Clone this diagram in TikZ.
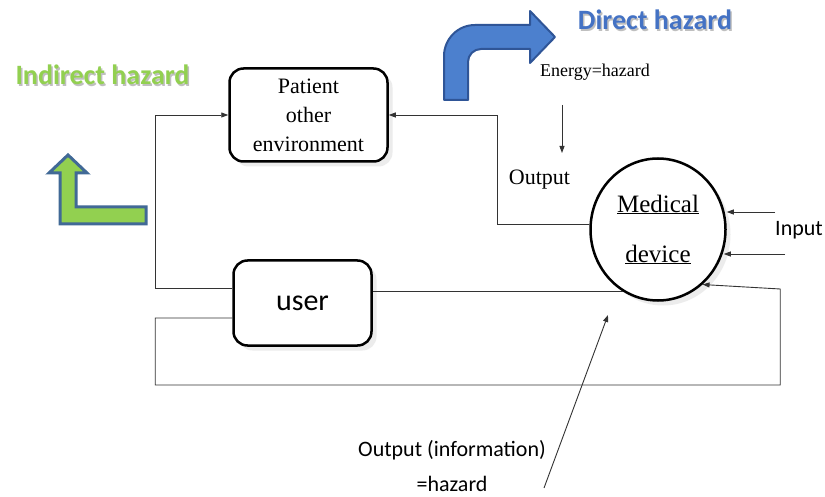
\documentclass[tikz,border=0pt]{standalone}
\usepackage{fontspec}
\setmainfont{Liberation Serif}
\newfontfamily\calfont{Carlito}
\usetikzlibrary{arrows.meta,shapes.geometric,shadows,calc}
\definecolor{hzgreen}{RGB}{146,208,80}
\definecolor{hzblue}{RGB}{68,114,196}
\definecolor{arrblue}{RGB}{76,128,206}
\definecolor{arredge}{RGB}{47,85,151}
\definecolor{gredge}{RGB}{65,105,150}
\begin{document}
\begin{tikzpicture}[x=1pt,y=-1pt,
  conn/.style={draw=black!80, line width=0.9pt},
  arr/.style={conn, -{Triangle[length=7pt,width=5pt]}},
  shad/.style={drop shadow={shadow xshift=5pt, shadow yshift=-5pt, opacity=0.15}},
  rbox/.style={draw, line width=2.5pt, rounded corners=14pt, fill=white, inner sep=0pt, shad},
  serif/.style={font=\fontsize{#1}{#1}\selectfont},
  title/.style={font=\calfont\bfseries\fontsize{28}{32}\selectfont}
]
\useasboundingbox[fill=white] (0,0) rectangle (825,497);

% hazard arrows
\filldraw[fill=arrblue, draw=arredge, line width=2pt, line join=round]
  (444,100) -- (444,56) .. controls (444,39.4) and (457.4,25) .. (475,25)
  -- (530,25) -- (530,11) -- (555,37) -- (530,63) -- (530,49) -- (481,49)
  .. controls (473.8,49) and (468,54.8) .. (468,62) -- (468,100) -- cycle;
\filldraw[fill=hzgreen, draw=gredge, line width=3pt, line join=miter]
  (60,224) -- (60,173) -- (49,173) -- (68,155) -- (87,173) -- (76,173)
  -- (76,207) -- (146,207) -- (146,224) -- cycle;

% titles
\node[title, text=black, opacity=0.25] (indsh) at (104,76.5) {Indirect hazard};
\node[title, text=hzgreen] (ind) at (102.5,75) {Indirect hazard};
\node[title, text=black, opacity=0.25] (dirsh) at (656.5,21.5) {Direct hazard};
\node[title, text=hzblue] (dir) at (655,20) {Direct hazard};

% main nodes
\node[rbox, minimum width=158pt, minimum height=93pt, align=center,
      font=\fontsize{22}{29}\selectfont] (pat) at (308.5,115) {Patient\\other\\environment};
\node[rbox, minimum width=138pt, minimum height=85pt,
      font=\calfont\fontsize{30}{36}\selectfont] (usr) at (302.5,303) {user};
\node[ellipse, draw, line width=2.5pt, fill=white, minimum width=135pt, minimum height=142pt,
      inner sep=0pt, align=center, shad, font=\fontsize{25}{50}\selectfont]
      (dev) at (658,229.5) {\underline{Medical}\\\underline{device}};

% labels
\node[serif=18] (energy) at (595,72) {Energy=hazard};
\node[serif=22] (outl) at (539.5,180) {Output};
\node[font=\calfont\fontsize{22}{26}\selectfont] (inp) at (799,230) {Input};
\node[font=\calfont\fontsize{22}{35}\selectfont, align=center, inner sep=0pt] (info) at (452,466)
      {Output (information)\\=hazard};

% coordinates
\coordinate (xo) at (497,0);
\coordinate (e1) at (562,105);
\coordinate (e2) at (562,153);
\coordinate (in1) at (775,212);
\coordinate (in2) at (785,254);
\coordinate (h1) at (544,488);
\coordinate (h2) at (608,315);

% connectors
\draw[arr] (dev.176) -- (dev.176 -| xo) |- (pat.east);
\draw[arr] ($(usr.west)+(0,-15)$) -- ++(-77,0) |- (pat.west);
\draw[arr] ($(usr.west)+(0,15)$) -- ++(-77,0) -- ++(0,67) -- ++(625,0) -- ++(0,-96) -- (dev.-51);
\draw[conn] (dev.241) -- (dev.241 -| usr.east);
\draw[arr] (in1) -- (dev.east |- in1);
\draw[arr] (in2) -- ($(dev.east |- in2)+(-3,0)$);
\draw[arr] (e1) -- (e2);
\draw[arr] (h1) -- (h2);
\end{tikzpicture}
\end{document}
